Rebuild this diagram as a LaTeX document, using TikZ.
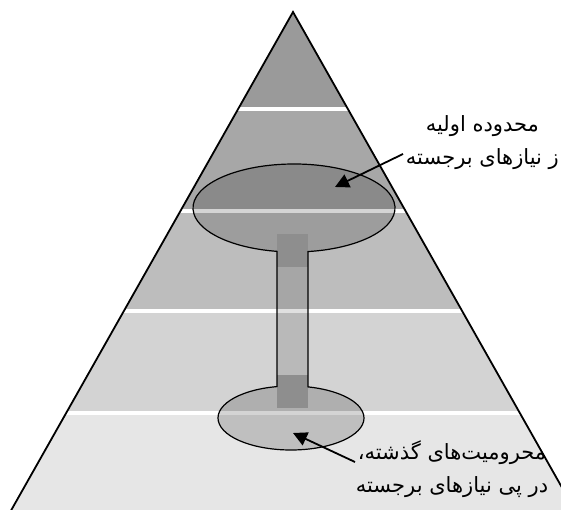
\documentclass[tikz,border=0pt]{standalone}
\usepackage{fontspec}
\usetikzlibrary{arrows.meta,calc}
\newfontfamily\arabicfont[Script=Arabic]{DejaVu Sans}
\TeXXeTstate=1

\definecolor{bandA}{HTML}{9A9A9A}
\definecolor{bandB}{HTML}{A7A7A7}
\definecolor{bandC}{HTML}{BDBDBD}
\definecolor{bandD}{HTML}{D3D3D3}
\definecolor{bandE}{HTML}{E6E6E6}
\definecolor{capgray}{HTML}{8E8E8E}

\begin{document}
\begin{tikzpicture}[
  x=1pt, y=1pt,
  gap/.style={white, line width=4.5pt},
  blob/.style={fill=black, fill opacity=0.17},
  outline/.style={draw=black, line width=1.2pt},
  edge/.style={draw=black, line width=1.8pt, line join=miter},
  arrow/.style={-{Triangle[length=14pt,width=14pt]}, line width=1.8pt},
  note/.style={align=center, font=\arabicfont\fontsize{21}{33}\selectfont, inner sep=0pt}
]
\useasboundingbox (0,0) rectangle (561,510);
\clip (0,0) rectangle (561,510);

\coordinate (apex) at (293,498);
\coordinate (bl) at (0,-20);
\coordinate (br) at (586,-20);

% bands of the pyramid
\begin{scope}
  \clip (apex) -- (bl) -- (br) -- cycle;
  \fill[bandA] (0,401) rectangle (561,510);
  \fill[bandB] (0,299) rectangle (561,401);
  \fill[bandC] (0,199) rectangle (561,299);
  \fill[bandD] (0,97) rectangle (561,199);
  \fill[bandE] (0,-20) rectangle (561,97);
  \foreach \y in {401,299,199,97}
    \draw[gap] (0,\y) -- (561,\y);
\end{scope}

% the two areas and the stem between them
\coordinate (topc) at (294,302);
\coordinate (botc) at (291,92);
\fill[blob] (topc) ellipse [x radius=101, y radius=44];
\fill[blob] (botc) ellipse [x radius=73, y radius=32];
\fill[black, fill opacity=0.12] (277,135) rectangle (308,243);
\fill[capgray] (277,243) rectangle (308,276);
\fill[capgray] (277,102) rectangle (308,135);
\draw[outline] ($(topc)+(-82.03:101 and 44)$)
  arc [start angle=-82.03, end angle=260.3, x radius=101, y radius=44]
  -- ($(botc)+(101.06:73 and 32)$)
  arc [start angle=101.06, end angle=436.53, x radius=73, y radius=32]
  -- cycle;

\draw[edge] (bl) -- (apex) -- (br);

% labels
\node[note, anchor=east] (toplbl) at (559,367) {\beginR محدوده اولیه\endR\\\beginR ز نیازهای برجسته\endR};
\node[note] (botlbl) at (452,41) {\beginR محرومیت‌های گذشته،\endR\\\beginR در پی نیازهای برجسته\endR};

\coordinate (toptail) at (403,356);
\coordinate (topmark) at (335,323);
\coordinate (bottail) at (355,48);
\coordinate (botmark) at (293,77);
\draw[arrow] (toptail) -- (topmark);
\draw[arrow] (bottail) -- (botmark);
\end{tikzpicture}
\end{document}
